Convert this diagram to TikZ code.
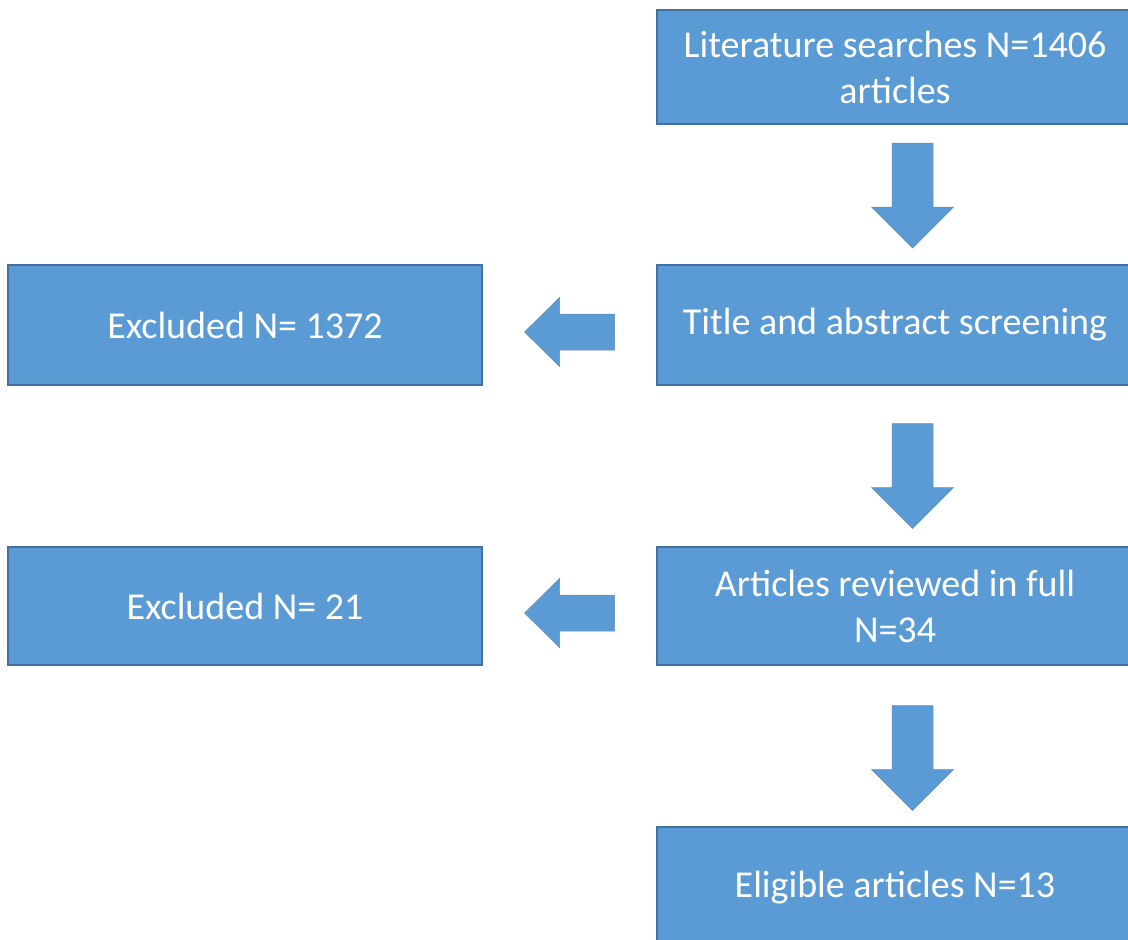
\documentclass[tikz,border=0pt]{standalone}
\usepackage{fontspec}
\setmainfont{Carlito}
\usetikzlibrary{calc}
\definecolor{boxblue}{HTML}{5B9BD5}
\definecolor{edgeblue}{HTML}{41719C}
\tikzset{
  flowbox/.style={rectangle, fill=boxblue, draw=edgeblue, line width=1.2pt,
    minimum width=476pt, minimum height=118pt, inner sep=0pt, text=white,
    align=center, font=\fontsize{38}{46}\selectfont},
  downarr/.pic={
    \filldraw[fill=boxblue, draw=edgeblue!80, line width=0.5pt]
      (-20.5,-52.5) -- (20.5,-52.5) -- (20.5,11.5) -- (41,11.5) -- (0,52.5)
      -- (-41,11.5) -- (-20.5,11.5) -- cycle;
  },
  leftarr/.pic={
    \filldraw[fill=boxblue, draw=edgeblue!80, line width=0.5pt]
      (45,-18) -- (45,18) -- (-10,18) -- (-10,34.5) -- (-45,0)
      -- (-10,-34.5) -- (-10,-18) -- cycle;
  }
}
\begin{document}
\begin{tikzpicture}[x=1pt, y=-1pt]
  \useasboundingbox (0,0) rectangle (1128,940);
  % right column
  \node[flowbox, minimum height=114pt] (lit) at (895,67) {Literature searches N=1406\\articles};
  \node[flowbox, minimum height=120pt] (screen) at (895,325) {Title and abstract screening};
  \node[flowbox] (full) at (895,606) {Articles reviewed in full\\N=34};
  \node[flowbox, minimum height=122pt] (elig) at (895,888) {Eligible articles N=13};
  % left column
  \node[flowbox, minimum width=474pt, minimum height=120pt] (exc1) at (245,325) {Excluded N= 1372};
  \node[flowbox, minimum width=474pt] (exc2) at (245,606) {Excluded N= 21};
  % arrows
  \pic at ($(lit.south)!0.5!(screen.north)+(17.5,1)$) {downarr};
  \pic at ($(screen.south)!0.5!(full.north)+(17.5,10)$) {downarr};
  \pic at ($(full.south)!0.5!(elig.north)+(17.5,12)$) {downarr};
  \pic at ($(exc1.east)!0.5!(screen.west)+(0,7)$) {leftarr};
  \pic at ($(exc2.east)!0.5!(full.west)+(0,7)$) {leftarr};
\end{tikzpicture}
\end{document}
